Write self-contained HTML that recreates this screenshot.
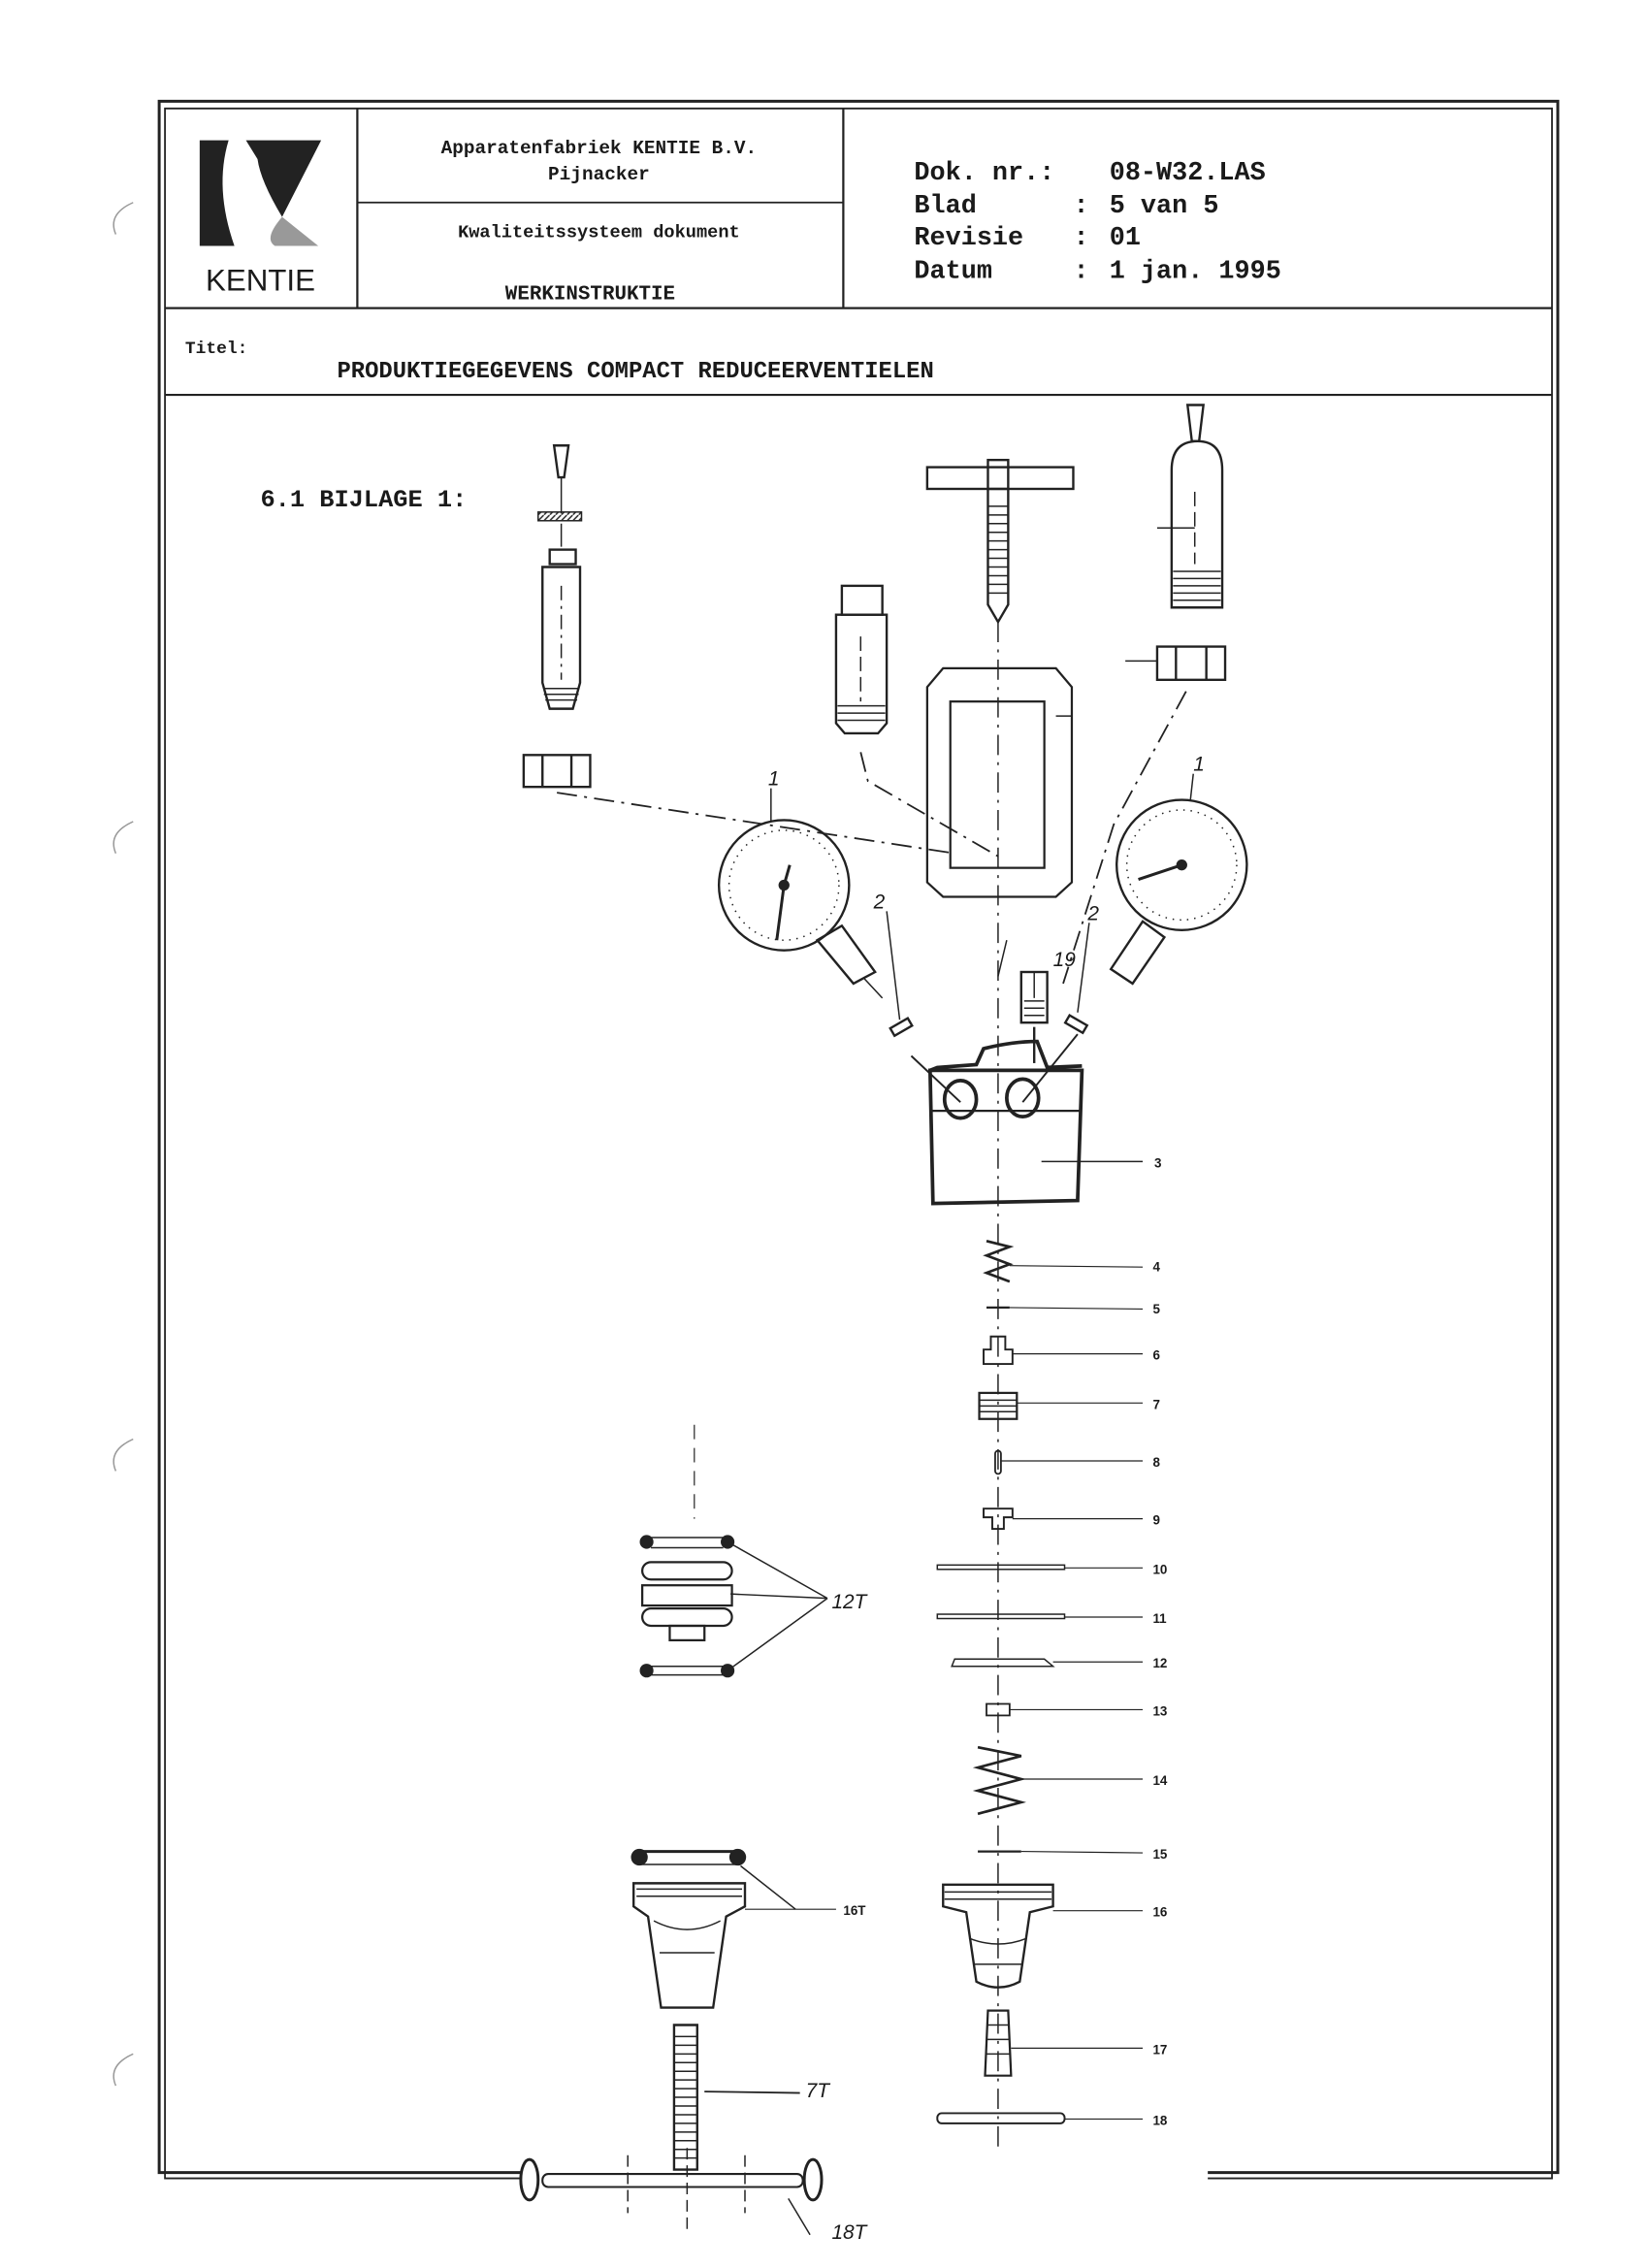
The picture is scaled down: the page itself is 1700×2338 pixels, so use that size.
<!DOCTYPE html>
<html><head><meta charset="utf-8"><style>
html,body{margin:0;padding:0;background:#fff}
svg{display:block}
text{fill:#1a1a1a}
.m{font-family:"Liberation Mono",monospace;font-weight:bold}
.s{font-family:"Liberation Sans",sans-serif}
</style></head><body>
<svg width="1700" height="2338" viewBox="0 0 1140 1568" xmlns="http://www.w3.org/2000/svg">
<rect width="1140" height="1568" fill="#fff"/>
<g fill="none" stroke="#222">
<path d="M92 140 q-18 8 -12 22" stroke-width="1" stroke="#999"/>
<path d="M92 568 q-18 8 -12 22" stroke-width="1" stroke="#999"/>
<path d="M92 995 q-18 8 -12 22" stroke-width="1" stroke="#999"/>
<path d="M92 1420 q-18 8 -12 22" stroke-width="1" stroke="#999"/>
<path d="M360 1502 H110 V70 H1077 V1502 H835" stroke-width="2"/>
<path d="M360 1506 H114 V75 H1073 V1506 H835" stroke-width="1.2"/>
<line x1="114" y1="213" x2="1073" y2="213" stroke-width="1.5"/>
<line x1="114" y1="273" x2="1073" y2="273" stroke-width="1.5"/>
<line x1="247" y1="75" x2="247" y2="213" stroke-width="1.5"/>
<line x1="583" y1="75" x2="583" y2="213" stroke-width="1.5"/>
<line x1="247" y1="140" x2="583" y2="140" stroke-width="1.2"/>
</g>
<path d="M138 97 H158 Q148 130 162 170 H138 Z" fill="#222"/>
<path d="M170 97 H222 L195 150 Q180 125 178 110 Z" fill="#222"/>
<path d="M195 150 Q182 165 190 170 H220 Z" fill="#999"/>
<text x="180" y="201" class="s" font-size="21" text-anchor="middle">KENTIE</text>
<text x="414" y="106" class="m" font-size="13" text-anchor="middle">Apparatenfabriek KENTIE B.V.</text>
<text x="414" y="124" class="m" font-size="13" text-anchor="middle">Pijnacker</text>
<text x="414" y="164" class="m" font-size="12.5" text-anchor="middle">Kwaliteitssysteem dokument</text>
<text x="408" y="207" class="m" font-size="14" text-anchor="middle">WERKINSTRUKTIE</text>
<g class="m" font-size="18" font-weight="normal">
<text x="632" y="124">Dok. nr.:</text><text x="767" y="124">08-W32.LAS</text>
<text x="632" y="147">Blad</text><text x="742" y="147">:</text><text x="767" y="147">5 van 5</text>
<text x="632" y="169">Revisie</text><text x="742" y="169">:</text><text x="767" y="169">01</text>
<text x="632" y="192">Datum</text><text x="742" y="192">:</text><text x="767" y="192">1 jan. 1995</text>
</g>
<text x="128" y="244" class="m" font-size="12">Titel:</text>
<text x="233" y="261" class="m" font-size="16">PRODUKTIEGEGEVENS COMPACT REDUCEERVENTIELEN</text>
<text x="180" y="350" class="m" font-size="17" font-weight="normal">6.1 BIJLAGE 1:</text>

<g fill="none" stroke="#222" stroke-width="1.6">
<line x1="690" y1="430" x2="690" y2="1485" stroke-width="1" stroke-dasharray="14 5 2 5"/>
<path d="M383 308 H393 L390 330 H386 Z"/>
<line x1="388" y1="330" x2="388" y2="355" stroke-width="1"/>
<rect x="372" y="354" width="30" height="6" fill="url(#h)" stroke-width="1"/>
<line x1="388" y1="362" x2="388" y2="378" stroke-width="1"/>
<rect x="380" y="380" width="18" height="10"/>
<path d="M375 392 H401 V472 L396 490 H380 L375 472 Z"/>
<path d="M376 476 H400 M376 480 H400 M377 484 H399" stroke-width="1"/>
<line x1="388" y1="405" x2="388" y2="470" stroke-width="1" stroke-dasharray="10 4 2 4"/>
<path d="M362 522 H408 V544 H362 Z M375 522 V544 M395 522 V544"/>
<path d="M385 548 L660 590" stroke-width="1.2" stroke-dasharray="14 5 2 5"/>
<rect x="641" y="323" width="101" height="15"/>
<rect x="683" y="318" width="14" height="20"/>
<path d="M683 338 V418 L690 430 L697 418 V338"/>
<path d="M683 350 H697 M683 356 H697 M683 362 H697 M683 368 H697 M683 374 H697 M683 380 H697 M683 386 H697 M683 392 H697 M683 398 H697 M683 404 H697 M683 410 H697" stroke-width="1"/>
<rect x="582" y="405" width="28" height="20"/>
<path d="M578 425 H613 V500 L607 507 H584 L578 500 Z"/>
<path d="M579 488 H612 M579 493 H612 M579 498 H612" stroke-width="1"/>
<line x1="595" y1="440" x2="595" y2="485" stroke-width="1" stroke-dasharray="10 4"/>
<path d="M595 520 L600 540 L690 592" stroke-width="1.2" stroke-dasharray="14 5 2 5"/>
<path d="M652 462 H730 L741 475 V610 L730 620 H652 L641 610 V475 Z" stroke-width="1.5"/>
<rect x="657" y="485" width="65" height="115" stroke-width="1.5"/>
<line x1="741" y1="495" x2="730" y2="495" stroke-width="1"/>
<path d="M821 280 H832 L829 305 H824 Z"/>
<path d="M810 420 V325 Q810 305 828 305 Q845 305 845 325 V420 Z"/>
<path d="M811 395 H844 M811 400 H844 M811 405 H844 M811 410 H844 M811 415 H844" stroke-width="1"/>
<line x1="826" y1="340" x2="826" y2="390" stroke-width="1" stroke-dasharray="10 4"/>
<line x1="800" y1="365" x2="826" y2="365" stroke-width="1"/>
<path d="M800 447 H847 V470 H800 Z M813 447 V470 M834 447 V470"/>
<line x1="778" y1="457" x2="800" y2="457" stroke-width="1"/>
<path d="M820 478 L770 570 L735 680" stroke-width="1.2" stroke-dasharray="14 5 2 5"/>
<circle cx="542" cy="612" r="45"/>
<circle cx="542" cy="612" r="38" stroke-width="1" stroke-dasharray="1 4"/>
<path d="M542 612 L537 650 M542 612 L546 598" stroke-width="2"/>
<circle cx="542" cy="612" r="3" fill="#222"/>
<path d="M565 650 L582 640 L605 672 L590 680 Z"/>
<line x1="597" y1="676" x2="610" y2="690" stroke-width="1"/>
<circle cx="817" cy="598" r="45"/>
<circle cx="817" cy="598" r="38" stroke-width="1" stroke-dasharray="1 4"/>
<path d="M817 598 L787 608" stroke-width="2"/>
<circle cx="817" cy="598" r="3" fill="#222"/>
<path d="M790 637 L805 648 L783 680 L768 670 Z"/>
<line x1="533" y1="545" x2="533" y2="568" stroke-width="1"/>
<line x1="825" y1="535" x2="823" y2="553" stroke-width="1"/>
<line x1="613" y1="630" x2="622" y2="705" stroke-width="1"/>
<rect x="616" y="707" width="14" height="6" transform="rotate(-30 623 710)"/>
<line x1="753" y1="638" x2="745" y2="700" stroke-width="1"/>
<rect x="737" y="705" width="14" height="6" transform="rotate(30 744 708)"/>
<rect x="706" y="672" width="18" height="35"/>
<line x1="715" y1="672" x2="715" y2="690" stroke-width="1"/>
<path d="M708 692 H722 M708 697 H722 M708 702 H722" stroke-width="1"/>
<line x1="715" y1="710" x2="715" y2="735"/>
<path d="M696 650 L690 675" stroke-width="1"/>
<path d="M643 740 L645 832 L745 830 L748 740 Z" stroke-width="2.5"/>
<path d="M643 740 L648 738 L675 736 L680 725 Q700 720 717 720 L724 738 L748 737" stroke-width="2.5"/>
<line x1="643" y1="768" x2="747" y2="768" stroke-width="1.5"/>
<ellipse cx="664" cy="760" rx="11" ry="13" stroke-width="2.5"/>
<ellipse cx="707" cy="759" rx="11" ry="13" stroke-width="2.5"/>
<path d="M630 730 L664 762 M745 715 L707 762" stroke-width="1.3"/>
<line x1="720" y1="803" x2="790" y2="803" stroke-width="1"/>
<path d="M682 858 L698 862 L682 868 L698 874 L682 880 L698 886" stroke-width="1.8"/>
<line x1="698" y1="875" x2="790" y2="876" stroke-width="0.8"/>
<line x1="682" y1="904" x2="698" y2="904" stroke-width="1.5"/>
<line x1="698" y1="904" x2="790" y2="905" stroke-width="0.8"/>
<path d="M685 924 H695 V933 H700 V943 H680 V933 H685 Z" stroke-width="1.3"/>
<line x1="700" y1="936" x2="790" y2="936" stroke-width="0.8"/>
<rect x="677" y="963" width="26" height="18" stroke-width="1.5"/>
<path d="M677 968 H703 M677 972 H703 M677 976 H703" stroke-width="1"/>
<line x1="703" y1="970" x2="790" y2="970" stroke-width="0.8"/>
<rect x="688" y="1003" width="4" height="16" rx="2" stroke-width="1.2"/>
<line x1="692" y1="1010" x2="790" y2="1010" stroke-width="0.8"/>
<path d="M680 1043 H700 V1049 H694 V1057 H686 V1049 H680 Z" stroke-width="1.3"/>
<line x1="700" y1="1050" x2="790" y2="1050" stroke-width="0.8"/>
<rect x="648" y="1082" width="88" height="3" stroke-width="1"/>
<line x1="736" y1="1084" x2="790" y2="1084" stroke-width="0.8"/>
<rect x="648" y="1116" width="88" height="3" stroke-width="1"/>
<line x1="736" y1="1118" x2="790" y2="1118" stroke-width="0.8"/>
<path d="M660 1147 H722 L728 1152 H658 Z" stroke-width="1"/>
<line x1="728" y1="1149" x2="790" y2="1149" stroke-width="0.8"/>
<rect x="682" y="1178" width="16" height="8" stroke-width="1.2"/>
<line x1="698" y1="1182" x2="790" y2="1182" stroke-width="0.8"/>
<path d="M676 1208 L706 1214 L676 1222 L706 1230 L676 1238 L706 1246 L676 1254" stroke-width="1.8"/>
<line x1="706" y1="1230" x2="790" y2="1230" stroke-width="0.8"/>
<path d="M676 1280 H706" stroke-width="1.5"/>
<line x1="706" y1="1280" x2="790" y2="1281" stroke-width="0.8"/>
<path d="M652 1303 H728 V1318 L712 1322 L705 1370 Q690 1378 675 1370 L668 1322 L652 1318 Z" stroke-width="1.6"/>
<path d="M653 1308 H727 M653 1313 H727" stroke-width="1"/>
<path d="M670 1340 Q690 1348 710 1340 M673 1358 H707" stroke-width="1"/>
<line x1="728" y1="1321" x2="790" y2="1321" stroke-width="0.8"/>
<path d="M683 1390 H697 L699 1435 H681 Z" stroke-width="1.5"/>
<path d="M682 1400 H698 M682 1410 H698 M682 1420 H698" stroke-width="1"/>
<line x1="699" y1="1416" x2="790" y2="1416" stroke-width="0.8"/>
<rect x="648" y="1461" width="88" height="7" rx="3" stroke-width="1.3"/>
<line x1="736" y1="1465" x2="790" y2="1465" stroke-width="0.8"/>
<g stroke-width="1.5">
<path d="M450 1063 H500 M450 1070 H500" stroke-width="1"/>
<rect x="444" y="1080" width="62" height="12" rx="6"/>
<rect x="444" y="1096" width="62" height="14"/>
<rect x="444" y="1112" width="62" height="12" rx="6"/>
<rect x="463" y="1124" width="24" height="10"/>
<path d="M450 1152 H500 M450 1158 H500" stroke-width="1"/>
<circle cx="447" cy="1066" r="4" fill="#222"/><circle cx="503" cy="1066" r="4" fill="#222"/>
<circle cx="447" cy="1155" r="4" fill="#222"/><circle cx="503" cy="1155" r="4" fill="#222"/>
</g>
<path d="M503 1066 L572 1105 M505 1102 L572 1105 M503 1155 L572 1105" stroke-width="1"/>
<line x1="480" y1="985" x2="480" y2="1050" stroke-width="0.8" stroke-dasharray="10 6"/>
<path d="M442 1280 H512" stroke-width="2"/><path d="M442 1289 H512" stroke-width="1"/>
<circle cx="442" cy="1284" r="5" fill="#222"/><circle cx="510" cy="1284" r="5" fill="#222"/>
<path d="M438 1302 H515 V1318 L502 1325 L493 1388 H457 L448 1325 L438 1318 Z" stroke-width="1.6"/>
<path d="M440 1306 H513 M440 1311 H513" stroke-width="1"/>
<path d="M452 1328 Q475 1340 498 1328 M456 1350 H494" stroke-width="1"/>
<line x1="512" y1="1290" x2="550" y2="1320" stroke-width="1"/>
<line x1="515" y1="1320" x2="578" y2="1320" stroke-width="0.8"/>
<path d="M466 1400 H482 V1500 H466 Z" stroke-width="1.6"/>
<path d="M466 1408 H482 M466 1414 H482 M466 1420 H482 M466 1426 H482 M466 1432 H482 M466 1438 H482 M466 1444 H482 M466 1450 H482 M466 1456 H482 M466 1462 H482 M466 1468 H482 M466 1474 H482 M466 1480 H482 M466 1486 H482 M466 1492 H482" stroke-width="1"/>
<line x1="487" y1="1446" x2="553" y2="1447" stroke-width="1.2"/>
<rect x="375" y="1503" width="180" height="9" rx="4" stroke-width="1.4"/>
<ellipse cx="366" cy="1507" rx="6" ry="14" stroke-width="2"/>
<ellipse cx="562" cy="1507" rx="6" ry="14" stroke-width="2"/>
<path d="M434 1490 V1530 M475 1485 V1545 M515 1490 V1530" stroke-width="1" stroke-dasharray="8 4"/>
<path d="M545 1520 L560 1545" stroke-width="1"/>
</g>
<defs><pattern id="h" width="4" height="4" patternUnits="userSpaceOnUse"><path d="M0 4 L4 0" stroke="#222" stroke-width="1"/></pattern></defs>
<g class="s" font-size="14" font-style="italic">
<text x="531" y="543">1</text>
<text x="825" y="533">1</text>
<text x="604" y="628">2</text>
<text x="752" y="636">2</text>
<text x="728" y="668">19</text>
<text x="575" y="1112">12T</text>
<text x="557" y="1450">7T</text>
<text x="575" y="1548">18T</text>
</g>
<g class="s" font-size="9" font-weight="bold">
<text x="798" y="807">3</text>
<text x="797" y="879">4</text>
<text x="797" y="908">5</text>
<text x="797" y="940">6</text>
<text x="797" y="974">7</text>
<text x="797" y="1014">8</text>
<text x="797" y="1054">9</text>
<text x="797" y="1088">10</text>
<text x="797" y="1122">11</text>
<text x="797" y="1153">12</text>
<text x="797" y="1186">13</text>
<text x="797" y="1234">14</text>
<text x="797" y="1285">15</text>
<text x="797" y="1325">16</text>
<text x="797" y="1420">17</text>
<text x="797" y="1469">18</text>
<text x="583" y="1324">16T</text>
</g>
</svg>
</body></html>
